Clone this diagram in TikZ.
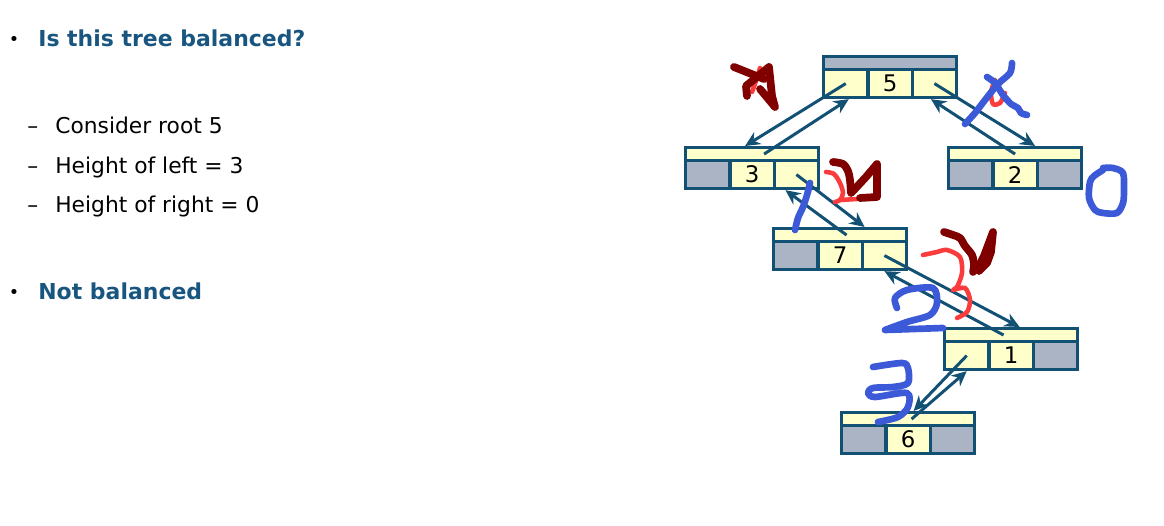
\documentclass[tikz,border=0pt]{standalone}
\usepackage{fontspec}
\setmainfont{DejaVu Sans}
\usepackage{color}
\definecolor{myboxblue}{RGB}{18,80,116}
\definecolor{mytitleblue}{RGB}{24,86,128}
\definecolor{mylightyellow}{RGB}{255,255,204}
\definecolor{mygrey}{RGB}{170,180,196}
\definecolor{mydarkred}{RGB}{128,0,0}
\definecolor{myred}{RGB}{250,60,60}
\definecolor{myblue}{RGB}{60,90,215}
\usepackage{tikz}
\usetikzlibrary{calc}
\usetikzlibrary{arrows.meta}
\newcommand{\widthcell}{0.887cm}
\newcommand{\widthbox}{2.66cm}
\newcommand{\heightstrip}{0.26cm}
\newcommand{\heightcell}{0.56cm}
\tikzset{
    common/.style={anchor=north west, draw=myboxblue, line width=1.8pt, rectangle, inner sep=0pt},
    strip/.style={common, minimum width=\widthbox, minimum height=\heightstrip, fill=mylightyellow},
    cell/.style={common, minimum width=\widthcell, minimum height=\heightcell, fill=mylightyellow, font=\fontsize{13}{14}\selectfont},
    nil/.style={fill=mygrey},
    link/.style={draw=myboxblue, line width=1.7pt, -{Stealth[length=3mm, width=2.8mm, inset=1mm]}},
    ink/.style={line width=4.4pt, line cap=round, line join=round},
    heading/.style={anchor=base west, inner sep=0pt, font=\fontsize{12.5}{15}\selectfont\bfseries, text=mytitleblue},
    subpoint/.style={anchor=base west, inner sep=0pt, font=\fontsize{12.4}{15}\selectfont},
    dot/.style={inner sep=0pt, font=\fontsize{10}{11}\selectfont}
}
\begin{document}
\begin{tikzpicture}[x=0.02cm, y=-0.02cm]
        \useasboundingbox (0,0) rectangle (1164,526);

        % slide text
        \node[dot] (dot-1) at (14,41) {\textbullet};
        \node[heading] (question) at (38,46.7) {Is this tree balanced?};
        \node[subpoint] (dash-1) at (27,134) {--};
        \node[subpoint] (root-text) at (55,134) {Consider root 5};
        \node[subpoint] (dash-2) at (27,173.3) {--};
        \node[subpoint] (left-text) at (55,173.3) {Height of left = 3};
        \node[subpoint] (dash-3) at (27,212.3) {--};
        \node[subpoint] (right-text) at (55,212.3) {Height of right = 0};
        \node[dot] (dot-2) at (14,294) {\textbullet};
        \node[heading] (answer) at (38,300) {Not balanced};

        % tree nodes
        \path
            (822,55) node[strip, nil] (N5-top) {}
            to ++(270:\heightstrip) node[cell] (N5-left) {}
            to ++(0:\widthcell) node[cell] (N5-key) {5}
            to ++(0:\widthcell) node[cell] (N5-right) {};
        \path
            (684,146) node[strip] (N3-top) {}
            to ++(270:\heightstrip) node[cell, nil] (N3-left) {}
            to ++(0:\widthcell) node[cell] (N3-key) {3}
            to ++(0:\widthcell) node[cell] (N3-right) {};
        \path
            (947,146) node[strip] (N2-top) {}
            to ++(270:\heightstrip) node[cell, nil] (N2-left) {}
            to ++(0:\widthcell) node[cell] (N2-key) {2}
            to ++(0:\widthcell) node[cell, nil] (N2-right) {};
        \path
            (772,227) node[strip] (N7-top) {}
            to ++(270:\heightstrip) node[cell, nil] (N7-left) {}
            to ++(0:\widthcell) node[cell] (N7-key) {7}
            to ++(0:\widthcell) node[cell] (N7-right) {};
        \path
            (943,327) node[strip] (N1-top) {}
            to ++(270:\heightstrip) node[cell] (N1-left) {}
            to ++(0:\widthcell) node[cell] (N1-key) {1}
            to ++(0:\widthcell) node[cell, nil] (N1-right) {};
        \path
            (840,411) node[strip] (N6-top) {}
            to ++(270:\heightstrip) node[cell, nil] (N6-left) {}
            to ++(0:\widthcell) node[cell] (N6-key) {6}
            to ++(0:\widthcell) node[cell, nil] (N6-right) {};

        % child and parent pointers
        \draw[link] (N5-left.center) -- ($(N3-top.north)+(-7,0)$);
        \draw[link] ($(N3-top.center)+(12,0)$) -- ($(N5-left.south)+(3,0)$);
        \draw[link] (N5-right.center) -- ($(N2-top.north)+(20,0)$);
        \draw[link] (N2-top.center) -- ($(N5-right.south)+(-3.5,0)$);
        \draw[link] (N3-right.center) -- ($(N7-top.north)+(24.5,0)$);
        \draw[link] ($(N7-top.center)+(6.5,0)$) -- ($(N3-right.south)+(-11,0)$);
        \draw[link] (N7-right.center) -- ($(N1-top.north)+(8.5,0)$);
        \draw[link] ($(N1-top.center)+(-7.5,0)$) -- (N7-right.south);
        \draw[link] (N1-left.center) -- ($(N6-top.north)+(5.5,0)$);
        \draw[link] ($(N6-top.center)+(3.5,0)$) -- (N1-left.south);

        % handwriting
        \draw[ink, myred, line width=2.6pt] plot[smooth] coordinates {(760,68) (757,78) (752,92)};
        \draw[ink, mydarkred] (734,67) -- (764,79);
        \draw[ink, mydarkred] (747,96) -- (746,86) -- (769,67) -- (772,96) -- (775,107) -- (760,89);

        \draw[ink, myred, line width=2.6pt] plot[smooth] coordinates {(995,80) (991,92) (993,104) (1000,103) (1005,93)};
        \draw[ink, myblue, line width=3.8pt] plot[smooth] coordinates {(1012,63) (1010,73) (998,84) (985,100) (975,113) (965,124)};
        \draw[ink, myblue, line width=3.8pt] plot[smooth] coordinates {(987,77) (995,83) (1003,95) (1011,104) (1018,108) (1021,113) (1027,115)};

        \draw[ink, myblue, line width=3.8pt] plot[smooth] coordinates {(1103,168) (1113,168) (1123,173) (1124,190) (1123,203) (1117,213) (1103,213) (1095,210) (1089,198) (1090,182) (1094,176) (1103,170)};

        \draw[ink, myred, line width=2.6pt] plot[smooth] coordinates {(826,172) (834,174) (840,183) (843,193) (840,200) (835,202)};
        \draw[ink, myred, line width=2.6pt] (840,200) -- (857,199);
        \draw[ink, mydarkred] plot[smooth] coordinates {(833,162) (843,164) (848,171) (850,180) (851,193)};
        \draw[ink, mydarkred] (852,192) -- (866,177) -- (877,164) -- (877,197) -- (860,198);
        \draw[ink, myblue, line width=3.8pt] plot[smooth] coordinates {(810,183) (807,195) (803,207) (798,218) (795,230)};

        \draw[ink, myred, line width=2.6pt] plot[smooth] coordinates {(923,255) (937,252) (947,250) (960,257) (962,273) (957,287) (953,290) (965,288) (970,300) (967,312) (957,318)};
        \draw[ink, mydarkred] plot[smooth] coordinates {(944,232) (953,235) (960,238) (965,246) (972,255) (974,265) (973,272)};
        \draw[ink, mydarkred] (977,270) -- (984,256) -- (993,232) -- (991,252) -- (987,263) -- (979,271);

        \draw[ink, myblue, line width=3.8pt] plot[smooth] coordinates {(897,308) (895,298) (907,290) (933,288) (937,303) (930,315) (907,322) (885,330)} -- (943,328);

        \draw[ink, myblue, line width=3.8pt] plot[smooth, tension=0.5] coordinates {(873,367) (902,363) (908,368) (908,383) (893,387) (873,388) (868,393) (875,397) (907,393) (908,407) (898,417) (878,422)};
    \end{tikzpicture}
\end{document}
